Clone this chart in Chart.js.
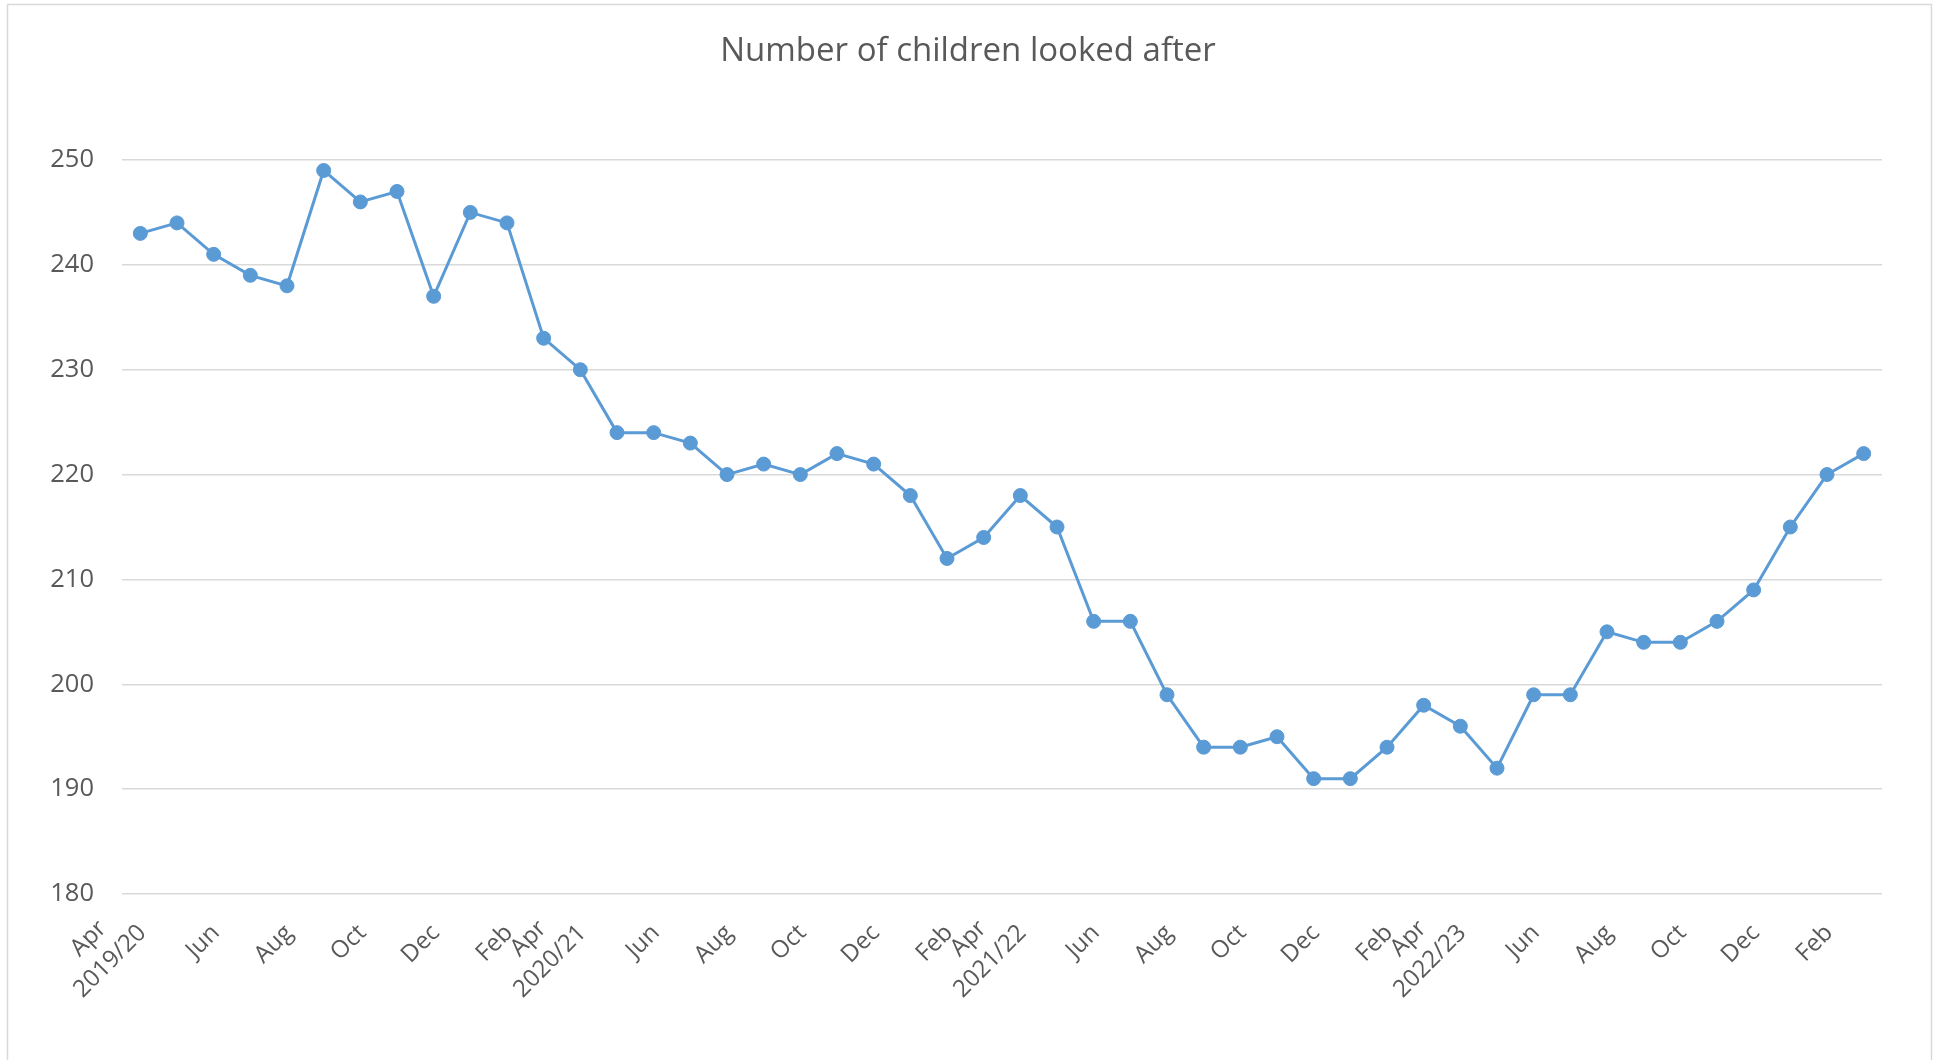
<!DOCTYPE html>
<html>
<head>
<meta charset="utf-8">
<script src="https://cdn.jsdelivr.net/npm/chart.js@4.4.1/dist/chart.umd.min.js"></script>
<style>
  html, body { margin: 0; padding: 0; background: #ffffff; overflow: hidden; }
  #wrap { position: relative; width: 1936px; height: 1060px; }
  canvas { display: block; }
</style>
</head>
<body>
<div id="wrap"><canvas id="chart" width="1936" height="1060"></canvas></div>
<script>
// ---------- data ----------
const chartTitle = 'Number of children looked after';

const categories = [
  'Apr 2019','May 2019','Jun 2019','Jul 2019','Aug 2019','Sep 2019','Oct 2019','Nov 2019','Dec 2019','Jan 2020','Feb 2020','Mar 2020',
  'Apr 2020','May 2020','Jun 2020','Jul 2020','Aug 2020','Sep 2020','Oct 2020','Nov 2020','Dec 2020','Jan 2021','Feb 2021','Mar 2021',
  'Apr 2021','May 2021','Jun 2021','Jul 2021','Aug 2021','Sep 2021','Oct 2021','Nov 2021','Dec 2021','Jan 2022','Feb 2022','Mar 2022',
  'Apr 2022','May 2022','Jun 2022','Jul 2022','Aug 2022','Sep 2022','Oct 2022','Nov 2022','Dec 2022','Jan 2023','Feb 2023','Mar 2023'
];

const tickLabels = [
  ['Apr','2019/20'], '', 'Jun', '', 'Aug', '', 'Oct', '', 'Dec', '', 'Feb', '',
  ['Apr','2020/21'], '', 'Jun', '', 'Aug', '', 'Oct', '', 'Dec', '', 'Feb', '',
  ['Apr','2021/22'], '', 'Jun', '', 'Aug', '', 'Oct', '', 'Dec', '', 'Feb', '',
  ['Apr','2022/23'], '', 'Jun', '', 'Aug', '', 'Oct', '', 'Dec', '', 'Feb', ''
];

const childrenLookedAfter = [
  243, 244, 241, 239, 238, 249, 246, 247, 237, 245, 244, 233,
  230, 224, 224, 223, 220, 221, 220, 222, 221, 218, 212, 214,
  218, 215, 206, 206, 199, 194, 194, 195, 191, 191, 194, 198,
  196, 192, 199, 199, 205, 204, 204, 206, 209, 215, 220, 222
];

const yMin = 180;
const yMax = 250;
const yStep = 10;

// ---------- styling ----------
const TEXT = '#595959';
const GRID = '#d9d9d9';
const LINE = '#5b9bd5';
const FONT = '"Open Sans", "DejaVu Sans", sans-serif';
const X_SIZE = 24;
const X_LH = 1.3;

const measure = document.createElement('canvas').getContext('2d');
measure.font = X_SIZE + 'px ' + FONT;
function tickText(i) {
  const l = tickLabels[i];
  if (Array.isArray(l)) {
    const diff = measure.measureText(l[1]).width - measure.measureText(l[0]).width;
    const n = Math.max(0, Math.round(diff / 2 / measure.measureText(' ').width));
    return [l[0] + ' '.repeat(n), l[1]];
  }
  return ['', l];
}

const frame = {
  id: 'frame',
  beforeDraw(chart) {
    const ctx = chart.ctx;
    ctx.save();
    ctx.fillStyle = '#ffffff';
    ctx.fillRect(0, 0, chart.width, chart.height);
    ctx.strokeStyle = GRID;
    ctx.lineWidth = 1.5;
    ctx.strokeRect(7.5, 4.5, 1924, 1200);
    ctx.restore();
  }
};

new Chart(document.getElementById('chart'), {
  type: 'line',
  data: {
    labels: categories,
    datasets: [{
      label: chartTitle,
      data: childrenLookedAfter,
      borderColor: LINE,
      backgroundColor: LINE,
      borderWidth: 3,
      pointRadius: 7,
      pointBorderWidth: 1,
      pointBorderColor: LINE,
      pointBackgroundColor: LINE,
      tension: 0,
      fill: false
    }]
  },
  options: {
    responsive: false,
    animation: false,
    devicePixelRatio: 1,
    layout: { padding: { left: 0, right: 0, top: 0, bottom: 0 } },
    plugins: {
      legend: { display: false },
      tooltip: { enabled: false },
      title: {
        display: true,
        text: chartTitle,
        color: TEXT,
        font: { family: FONT, size: 33, weight: 'normal', lineHeight: 1.2 },
        padding: { top: 32.2, bottom: 88.2 }
      }
    },
    scales: {
      x: {
        type: 'category',
        offset: true,
        grid: { display: false, drawTicks: false },
        border: { display: false },
        ticks: {
          autoSkip: false,
          minRotation: 45,
          maxRotation: 45,
          padding: 2,
          labelOffset: -20,
          color: TEXT,
          font: { family: FONT, size: X_SIZE, lineHeight: X_LH },
          callback: (v, i) => tickText(i)
        },
        afterFit: s => { s.height = 166; }
      },
      y: {
        type: 'linear',
        position: 'left',
        min: yMin,
        max: yMax,
        grid: { color: GRID, lineWidth: 1.5, drawTicks: false },
        border: { display: false },
        ticks: {
          stepSize: yStep,
          padding: 28,
          color: TEXT,
          font: { family: FONT, size: 25.5 }
        },
        afterFit: s => { s.width = 122; }
      },
      yRight: {
        type: 'linear',
        position: 'right',
        display: true,
        grid: { display: false, drawTicks: false },
        border: { display: false },
        ticks: { display: false },
        afterFit: s => { s.width = 54; }
      }
    }
  },
  plugins: [frame]
});
</script>
</body>
</html>
